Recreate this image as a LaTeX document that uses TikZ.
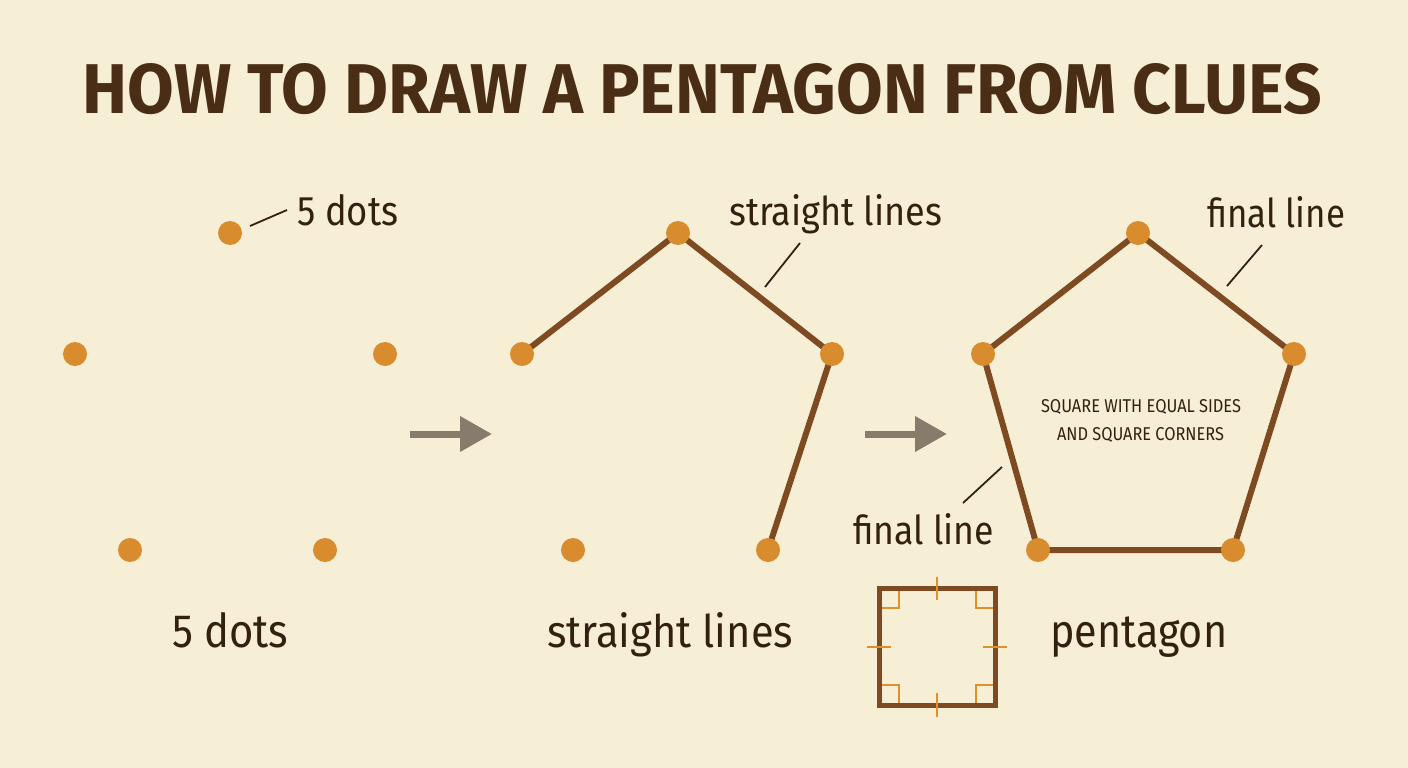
\documentclass[tikz,border=0pt]{standalone}
\usepackage{fontspec}
\usepackage{graphicx}
\setmainfont{Fira Sans}
\usetikzlibrary{arrows.meta}
\definecolor{bg}{HTML}{F7EED6}
\definecolor{dotc}{HTML}{D98C2E}
\definecolor{edgec}{HTML}{7D4A22}
\definecolor{txt}{HTML}{33210F}
\definecolor{ttl}{HTML}{4A2D15}
\definecolor{arr}{HTML}{877C6C}
\definecolor{markc}{HTML}{D9922E}
\pgfdeclarelayer{back}
\pgfdeclarelayer{lines}
\pgfsetlayers{back,lines,main}
\newcommand{\fit}[3]{\resizebox{#1pt}{#2pt}{#3\vphantom{dl}}}
\begin{document}
\begin{tikzpicture}[x=1pt,y=-1pt,
  dot/.style={circle,fill=dotc,inner sep=0pt,minimum size=24pt},
  edge/.style={draw=edgec,line width=6pt,line cap=round},
  leader/.style={draw=txt,line width=1.8pt},
  lbl/.style={text=txt,inner sep=0pt,anchor=base west},
  bigarrow/.style={draw=arr,line width=7pt,-{Triangle[length=32pt,width=34pt]}},
  sqside/.style={draw=edgec,line width=5pt},
  sqmark/.style={draw=markc,line width=2.8pt}]
\begin{pgfonlayer}{back}
\fill[bg] (0,0) rectangle (1408,768);
\end{pgfonlayer}
\useasboundingbox (0,0) rectangle (1408,768);

% title
\node[text=ttl,inner sep=0pt] (title) at (702.5,89) {\resizebox{1239pt}{50pt}{\bfseries HOW TO DRAW A PENTAGON FROM CLUES}};

% panel 1 dots
\node[dot] (a1) at (230,233) {};
\node[dot] (a2) at (75,354) {};
\node[dot] (a3) at (385,354) {};
\node[dot] (a4) at (130,550) {};
\node[dot] (a5) at (325,550) {};

% panel 2 dots
\node[dot] (b1) at (678,233) {};
\node[dot] (b2) at (522,354) {};
\node[dot] (b3) at (832,354) {};
\node[dot] (b4) at (573,550) {};
\node[dot] (b5) at (768,550) {};

% panel 3 dots
\node[dot] (c1) at (1138,233) {};
\node[dot] (c2) at (983,354) {};
\node[dot] (c3) at (1294,354) {};
\node[dot] (c4) at (1038,550) {};
\node[dot] (c5) at (1233,550) {};

\begin{pgfonlayer}{lines}
\draw[edge] (b2.center) -- (b1.center) -- (b3.center) -- (b5.center);
\draw[edge] (c1.center) -- (c3.center) -- (c5.center) -- (c4.center) -- (c2.center) -- cycle;
\end{pgfonlayer}

% arrows
\coordinate (ar1s) at (410,434);
\coordinate (ar1e) at (492,434);
\coordinate (ar2s) at (865,434);
\coordinate (ar2e) at (947,434);
\draw[bigarrow] (ar1s) -- (ar1e);
\draw[bigarrow] (ar2s) -- (ar2e);

% top labels with leaders
\node[lbl] (l1) at (297,225) {\fit{101}{31}{5 dots}};
\coordinate (l1a) at (250,226);
\coordinate (l1b) at (287,210);
\draw[leader] (l1a) -- (l1b);

\node[lbl] (l2) at (729,225) {\fit{213}{31}{straight lines}};
\coordinate (l2a) at (765,287);
\coordinate (l2b) at (800,243);
\draw[leader] (l2a) -- (l2b);

\node[lbl] (l3) at (1207,227) {\fit{138}{31}{final line}};
\coordinate (l3a) at (1227,286);
\coordinate (l3b) at (1262,245);
\draw[leader] (l3a) -- (l3b);

\node[lbl] (l4) at (853,544) {\fit{141}{31}{final line}};
\coordinate (l4a) at (963,503);
\coordinate (l4b) at (1002,467);
\draw[leader] (l4a) -- (l4b);

% inner caption
\node[text=txt,inner sep=0pt] (cap1) at (1141,407) {\resizebox{200pt}{13pt}{SQUARE WITH EQUAL SIDES}};
\node[text=txt,inner sep=0pt] (cap2) at (1140.5,434.5) {\resizebox{167pt}{13pt}{AND SQUARE CORNERS}};

% bottom labels
\node[lbl] (t1) at (172,647) {\fit{116}{35}{5 dots}};
\node[lbl] (t2) at (547,647) {\fit{246}{35}{straight lines}};
\node[lbl] (t3) at (1050,647) {\fit{177}{35}{pentagon}};

% square icon
\draw[sqmark] (881,608) -- (899,608) -- (899,589);
\draw[sqmark] (993,608) -- (976,608) -- (976,589);
\draw[sqmark] (881,685) -- (899,685) -- (899,703);
\draw[sqmark] (993,685) -- (976,685) -- (976,703);
\draw[sqside] (879,588) rectangle (995,705);
\draw[sqmark] (937,577) -- (937,600);
\draw[sqmark] (937,693) -- (937,717);
\draw[sqmark] (867,647) -- (891,647);
\draw[sqmark] (983,647) -- (1007,647);
\end{tikzpicture}
\end{document}
